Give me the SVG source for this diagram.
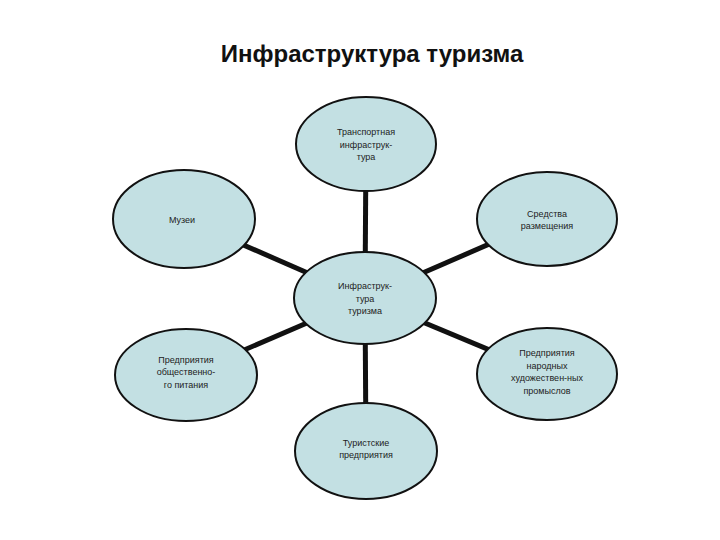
<svg xmlns="http://www.w3.org/2000/svg" width="720" height="540" viewBox="0 0 720 540">
<style>
.node ellipse{fill:#c3e0e3;stroke:#111;stroke-width:2}
.node text{font-family:"Liberation Sans",Arial,sans-serif;font-size:9px;fill:#222;text-anchor:middle}
.conn line{stroke:#111;stroke-width:5;stroke-linecap:butt}
.title{font-family:"Liberation Sans",Arial,sans-serif;font-size:24px;font-weight:bold;fill:#111;text-anchor:middle}
</style>
<rect width="720" height="540" fill="#fff"/>
<text class="title" x="372" y="62">Инфраструктура туризма</text>
<g id="connectors" class="conn">
<line x1="365" y1="298" x2="366" y2="144"/>
<line x1="365" y1="298" x2="366" y2="451"/>
<line x1="365" y1="298" x2="184" y2="219"/>
<line x1="365" y1="298" x2="547" y2="219"/>
<line x1="365" y1="298" x2="186" y2="375"/>
<line x1="365" y1="298" x2="547" y2="374"/>
</g>
<g id="n-transport" class="node">
<ellipse cx="366" cy="144" rx="70" ry="47"/>
<text x="366" y="135">Транспортная</text>
<text x="366" y="148">инфраструк-</text>
<text x="366" y="160">тура</text>
</g>
<g id="n-muzei" class="node">
<ellipse cx="184" cy="219" rx="71" ry="49"/>
<text x="182" y="223">Музеи</text>
</g>
<g id="n-sredstva" class="node">
<ellipse cx="547" cy="219" rx="70" ry="47"/>
<text x="547" y="217">Средства</text>
<text x="547" y="229">размещения</text>
</g>
<g id="n-center" class="node">
<ellipse cx="365" cy="298" rx="71" ry="46"/>
<text x="365" y="289">Инфраструк-</text>
<text x="365" y="302">тура</text>
<text x="365" y="314">туризма</text>
</g>
<g id="n-pitanie" class="node">
<ellipse cx="186" cy="375" rx="71" ry="46"/>
<text x="186" y="363">Предприятия</text>
<text x="186" y="375">общественно-</text>
<text x="186" y="388">го питания</text>
</g>
<g id="n-narod" class="node">
<ellipse cx="547" cy="374" rx="70" ry="46"/>
<text x="547" y="356">Предприятия</text>
<text x="547" y="369">народных</text>
<text x="547" y="381">художествен-ных</text>
<text x="547" y="394">промыслов</text>
</g>
<g id="n-turist" class="node">
<ellipse cx="366" cy="451" rx="71" ry="48"/>
<text x="366" y="446">Туристские</text>
<text x="366" y="458">предприятия</text>
</g>
</svg>
